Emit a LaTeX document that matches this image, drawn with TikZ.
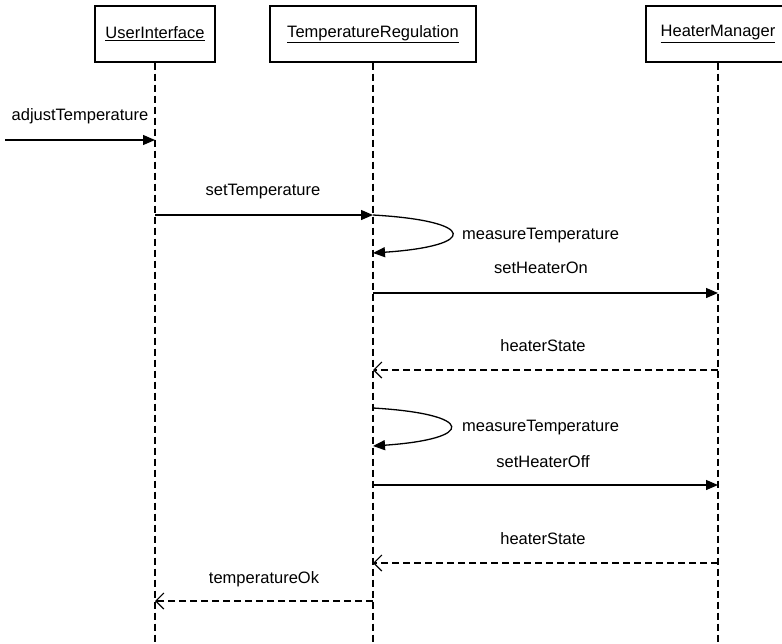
\documentclass[tikz,border=0pt]{standalone}
\usepackage{fontspec}
\setmainfont{Liberation Sans}
\usetikzlibrary{arrows.meta}
\begin{document}
\begin{tikzpicture}[x=1pt,y=-1pt,
  obj/.style={draw,line width=1.2pt,minimum height=56pt,inner sep=0pt,
    font=\fontsize{16.5}{20}\selectfont},
  lifeline/.style={line width=1.5pt,dash pattern=on 7pt off 4pt},
  msg/.style={line width=1.3pt,-{Triangle[length=12pt,width=10pt]}},
  ret/.style={line width=1.3pt,dash pattern=on 7pt off 4pt,
    -{Straight Barb[length=8pt,width=16pt,line width=1.2pt]}},
  lbl/.style={font=\fontsize{16.5}{20}\selectfont,inner sep=0pt}]
\useasboundingbox (0,0) rectangle (782,643);
\clip (0,0) rectangle (782,643);

% objects
\node[obj,minimum width=120pt] (ui) at (155,34) {\underline{UserInterface}};
\node[obj,minimum width=206pt] (tr) at (373,34) {\underline{TemperatureRegulation}};
\node[obj,minimum width=144pt] (hm) at (718,34) {\underline{HeaterManager}};

% lifelines
\coordinate (uiEnd) at (155,643);
\coordinate (trEnd) at (373,643);
\coordinate (hmEnd) at (718,643);
\draw[lifeline] (ui.south) -- (uiEnd);
\draw[lifeline] (tr.south) -- (trEnd);
\draw[lifeline] (hm.south) -- (hmEnd);

% message anchors on the lifelines
\coordinate (in)  at (5,140);
\coordinate (ui1) at (155,140);
\coordinate (ui2) at (155,215);
\coordinate (tr2) at (373,215);
\coordinate (tr3) at (373,253);
\coordinate (tr4) at (373,293);
\coordinate (hm4) at (718,293);
\coordinate (hm5) at (718,370);
\coordinate (tr5) at (373,370);
\coordinate (tr6) at (373,408);
\coordinate (tr7) at (373,446);
\coordinate (tr8) at (373,485);
\coordinate (hm8) at (718,485);
\coordinate (hm9) at (718,563);
\coordinate (tr9) at (373,563);
\coordinate (tr10) at (373,601);
\coordinate (ui10) at (155,601);

% messages
\draw[msg] (in) -- (ui1);
\node[lbl] (l1) at (80,116) {adjustTemperature};

\draw[msg] (ui2) -- (tr2);
\node[lbl] (l2) at (263,192) {setTemperature};

\draw[msg] (tr2) .. controls (478,221) and (478,246) .. (tr3);
\node[lbl,anchor=west] (l3) at (462,236) {measureTemperature};

\draw[msg] (tr4) -- (hm4);
\node[lbl] (l4) at (541,268) {setHeaterOn};

\draw[ret] (hm5) -- (tr5);
\node[lbl] (l5) at (543,346) {heaterState};

\draw[msg] (tr6) .. controls (476,414) and (476,439) .. (tr7);
\node[lbl,anchor=west] (l6) at (462,428) {measureTemperature};

\draw[msg] (tr8) -- (hm8);
\node[lbl] (l7) at (543,462) {setHeaterOff};

\draw[ret] (hm9) -- (tr9);
\node[lbl] (l8) at (543,539) {heaterState};

\draw[ret] (tr10) -- (ui10);
\node[lbl] (l9) at (264,579) {temperatureOk};
\end{tikzpicture}
\end{document}
